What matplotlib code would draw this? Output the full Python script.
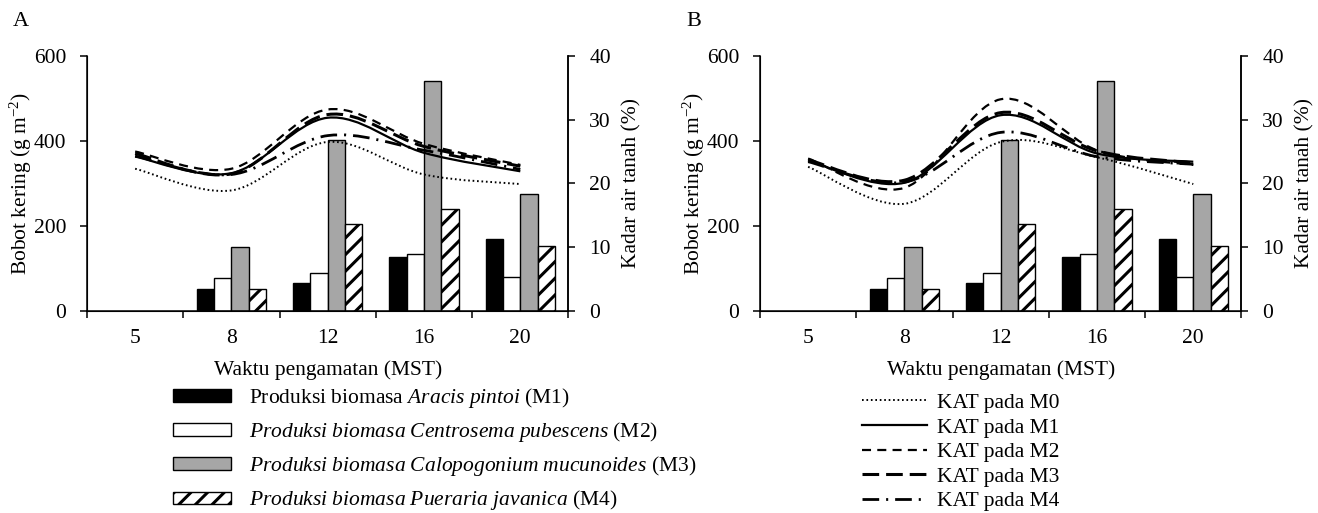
import numpy as np
import matplotlib
matplotlib.use("Agg")
from matplotlib import pyplot as plt
from matplotlib.path import Path
from matplotlib.patches import PathPatch, Patch
from matplotlib.lines import Line2D

plt.rcParams['font.family'] = 'Liberation Serif'
plt.rcParams['mathtext.fontset'] = 'custom'
plt.rcParams['mathtext.rm'] = 'Liberation Serif'
plt.rcParams['mathtext.it'] = 'Liberation Serif:italic'
plt.rcParams['font.size'] = 15.5
plt.rcParams['hatch.linewidth'] = 2.2
plt.rcParams['lines.scale_dashes'] = False

weeks = ["5", "8", "12", "16", "20"]

# biomass (g m-2), week 5 has no bars
bio_m1 = [np.nan, 52, 66, 127, 169]
bio_m2 = [np.nan, 78, 90, 134, 80]
bio_m3 = [np.nan, 150, 402, 541, 274]
bio_m4 = [np.nan, 52, 204, 240, 152]

# soil water content (%) panel A
kat_a_m0 = [22.3, 18.9, 26.5, 21.4, 19.9]
kat_a_m1 = [24.2, 21.6, 30.3, 24.8, 21.9]
kat_a_m2 = [25.0, 22.3, 31.6, 26.2, 22.9]
kat_a_m3 = [24.7, 21.5, 30.8, 25.8, 22.7]
kat_a_m4 = [24.3, 21.4, 27.5, 25.2, 22.2]

# soil water content (%) panel B
kat_b_m0 = [22.6, 16.8, 26.5, 24.1, 19.9]
kat_b_m1 = [23.6, 20.1, 30.7, 24.7, 23.4]
kat_b_m2 = [23.9, 19.3, 33.2, 25.2, 22.9]
kat_b_m3 = [23.7, 20.5, 31.1, 25.1, 23.2]
kat_b_m4 = [23.4, 20.2, 28.0, 24.2, 23.0]

bar_labels = [r"Produksi biomasa $\it{Aracis\ pintoi}$ (M1)",
              r"$\it{Produksi\ biomasa\ Centrosema\ pubescens}$ (M2)",
              r"$\it{Produksi\ biomasa\ Calopogonium\ mucunoides}$ (M3)",
              r"$\it{Produksi\ biomasa\ Pueraria\ javanica}$ (M4)"]
line_labels = ["KAT pada M0", "KAT pada M1", "KAT pada M2", "KAT pada M3", "KAT pada M4"]

bar_styles = [dict(facecolor="black"), dict(facecolor="white"),
              dict(facecolor="#a6a6a6"), dict(facecolor="white", hatch="//")]
line_styles = [dict(linestyle=(0, (1.2, 2.0)), linewidth=1.4),
               dict(linestyle="-", linewidth=1.6),
               dict(linestyle=(0, (6.5, 4.5)), linewidth=1.6),
               dict(linestyle=(0, (12, 5)), linewidth=2.2),
               dict(linestyle=(0, (12, 5, 1.5, 5)), linewidth=2.0)]


def smooth_path(x, y):
    pts = np.column_stack([x, y]).astype(float)
    n = len(pts)
    verts = [pts[0]]
    codes = [Path.MOVETO]
    for i in range(n - 1):
        p0 = pts[max(i - 1, 0)]
        p1 = pts[i]
        p2 = pts[i + 1]
        p3 = pts[min(i + 2, n - 1)]
        verts += [p1 + (p2 - p0) / 6, p2 - (p3 - p1) / 6, p2]
        codes += [Path.CURVE4] * 3
    return Path(verts, codes)


def draw_panel(rect, kat, letter):
    ax = fig.add_axes(rect)
    x = np.arange(len(weeks))
    w = 0.18
    for k, vals in enumerate([bio_m1, bio_m2, bio_m3, bio_m4]):
        ax.bar(x + (k - 1.5) * w, vals, w, edgecolor="black", linewidth=1.0,
               **bar_styles[k])
    ax.set_xlim(-0.5, 4.5)
    ax.set_ylim(0, 600)
    ax.set_yticks([0, 200, 400, 600])
    ax.set_xticks(np.arange(-0.5, 5, 1))
    ax.set_xticklabels([])
    ax.set_xticks(x, minor=True)
    ax.set_xticklabels(weeks, minor=True)
    ax.tick_params(axis="x", which="minor", length=0, pad=13)
    ax.tick_params(axis="x", which="major", length=5, width=1.1)
    ax.tick_params(axis="y", length=5, width=1.1, pad=10)
    ax.spines["top"].set_visible(False)
    for s in ["left", "bottom", "right"]:
        ax.spines[s].set_linewidth(1.1)
    ax.set_ylabel(r"Bobot kering (g m$^{-2}$)", labelpad=0)
    ax.set_xlabel("Waktu pengamatan (MST)", labelpad=9)

    ax2 = ax.twinx()
    ax2.set_ylim(0, 40)
    ax2.set_yticks([0, 10, 20, 30, 40])
    ax2.tick_params(axis="y", length=5, width=1.1, pad=10)
    ax2.spines["top"].set_visible(False)
    ax2.spines["right"].set_linewidth(1.1)
    for k, vals in enumerate(kat):
        ax2.add_patch(PathPatch(smooth_path(x, vals), fill=False,
                                edgecolor="black", capstyle="butt",
                                **line_styles[k]))
    ax2.set_ylabel("Kadar air tanah (%)", labelpad=8)
    fig.text(rect[0] - 0.056, 0.959, letter, fontsize=16, va="center")
    return ax


fig = plt.figure(figsize=(13.18, 5.13), dpi=100)
draw_panel([0.066, 0.394, 0.3653, 0.497],
           [kat_a_m0, kat_a_m1, kat_a_m2, kat_a_m3, kat_a_m4], "A")
draw_panel([0.5766, 0.394, 0.3653, 0.497],
           [kat_b_m0, kat_b_m1, kat_b_m2, kat_b_m3, kat_b_m4], "B")

bar_handles = [Patch(edgecolor="black", linewidth=1.0, **st) for st in bar_styles]
fig.legend(bar_handles, bar_labels, loc="upper left",
           bbox_to_anchor=(0.1313, 0.2475), frameon=False, borderpad=0,
           borderaxespad=0, handlelength=2.7, handleheight=0.5,
           handletextpad=0.84, labelspacing=0.47)

line_handles = [Line2D([], [], color="black", **st) for st in line_styles]
fig.legend(line_handles, line_labels, loc="upper left",
           bbox_to_anchor=(0.654, 0.234), frameon=False, borderpad=0,
           borderaxespad=0, handlelength=3.0, handletextpad=0.47,
           labelspacing=0.21)

fig.savefig("out.png", dpi=100)
